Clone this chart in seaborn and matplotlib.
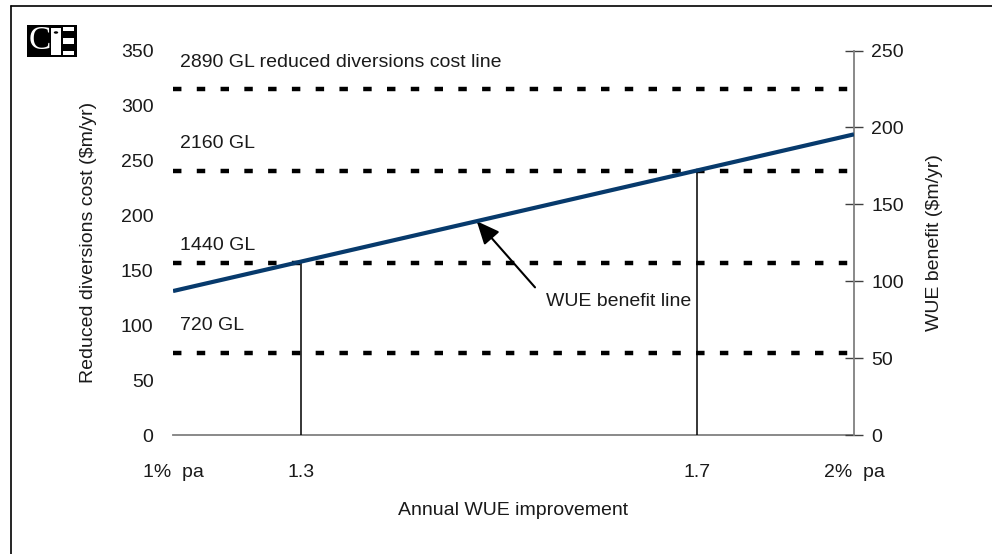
import numpy as np
import pandas as pd
import matplotlib
matplotlib.use("Agg")
import matplotlib.pyplot as plt
from matplotlib import font_manager
from matplotlib.patches import Rectangle, Circle
from matplotlib.lines import Line2D
import seaborn as sns

# Annual WUE improvement (% pa) at the ends of the benefit line
wue_pct = [1.0, 2.0]
# WUE benefit ($m/yr), read on the right-hand axis
wue_benefit = [93.6, 195.5]

# Reduced diversions cost levels ($m/yr), read on the left-hand axis
diversion_labels = ["720 GL", "1440 GL", "2160 GL",
                    "2890 GL reduced diversions cost line"]
diversion_cost = [75, 157, 240, 315]

# WUE improvements where the benefit line meets the 1440 GL and 2160 GL costs
breakeven_pct = [1.3, 1.7]
breakeven_cost = [157, 240]

x_major_ticks = [1.0, 2.0]
x_major_labels = ["1%  pa", "2%  pa"]
x_minor_ticks = [1.3, 1.7]
x_minor_labels = ["1.3", "1.7"]
left_ticks = [0, 50, 100, 150, 200, 250, 300, 350]
right_ticks = [0, 50, 100, 150, 200, 250]

sns.set_theme(style="white")
available = {f.name for f in font_manager.fontManager.ttflist}
narrow = "Liberation Sans Narrow" if "Liberation Sans Narrow" in available else "Liberation Sans"
plt.rcParams["font.family"] = [narrow, "DejaVu Sans"]
plt.rcParams["text.color"] = "#1a1a1a"
plt.rcParams["axes.labelcolor"] = "#1a1a1a"
plt.rcParams["xtick.color"] = "#1a1a1a"
plt.rcParams["ytick.color"] = "#1a1a1a"

FS = 14
GREY = "#808080"
NAVY = "#073a6c"

# The horizontal axis is stretched piecewise so 1.3 and 1.7 sit where drawn
knots_x = np.array([1.0, 1.3, 1.7, 2.0])
knots_u = np.array([0.0, 0.188, 0.769, 1.0])


def fwd(x):
    x = np.asarray(x, dtype=float)
    out = np.interp(x, knots_x, knots_u)
    out = np.where(x < 1.0, (x - 1.0) * (0.188 / 0.3), out)
    out = np.where(x > 2.0, 1.0 + (x - 2.0) * (0.231 / 0.3), out)
    return out


def inv(u):
    u = np.asarray(u, dtype=float)
    out = np.interp(u, knots_u, knots_x)
    out = np.where(u < 0.0, 1.0 + u * (0.3 / 0.188), out)
    out = np.where(u > 1.0, 2.0 + (u - 1.0) * (0.3 / 0.231), out)
    return out


fig = plt.figure(figsize=(9.92, 5.54), dpi=100)
ax = fig.add_axes([0.1744, 0.2148, 0.6865, 0.6940])
ax.set_xscale("function", functions=(fwd, inv))
ax2 = ax.twinx()

ax.set_xlim(1.0, 2.0)
ax.set_ylim(0, 350)
ax2.set_ylim(0, 250)

# Reduced diversions cost levels, each with its label a little above the line
ax.hlines(diversion_cost, wue_pct[0], wue_pct[1], colors="black",
          linewidth=3.2, linestyles=[(0, (1.9, 3.45))], capstyle="butt", zorder=2)
label_rise_px = [27, 17, 28, 26]
for lab, cost, rise in zip(diversion_labels, diversion_cost, label_rise_px):
    ax.annotate(lab, xy=(1.0, cost), xytext=(5, rise * 0.72),
                textcoords="offset points", fontsize=FS, ha="left", va="center")

# Break-even drop lines
ax.vlines(breakeven_pct, 0, breakeven_cost, colors="black", linewidth=1.1, zorder=3)

# WUE benefit line
benefit_df = pd.DataFrame({"pct": wue_pct, "benefit": wue_benefit})
sns.lineplot(data=benefit_df, x="pct", y="benefit", ax=ax2, color=NAVY,
             linewidth=3.0, solid_capstyle="butt", zorder=4)

# Arrow pointing at the benefit line
tip_u = 0.446
tip_x = float(inv(tip_u))
tip_y = wue_benefit[0] + tip_u * (wue_benefit[1] - wue_benefit[0])
ax2.annotate("", xy=(tip_x, tip_y), xytext=(float(inv(0.5316)), 96.0),
             arrowprops=dict(arrowstyle="-|>,head_length=0.5,head_width=0.22",
                             mutation_scale=28, color="black", lw=1.5,
                             shrinkA=0, shrinkB=0))
ax2.text(float(inv(0.547)), 86.5, "WUE benefit line", fontsize=FS,
         ha="left", va="center")

# Axes styling
for side in ["left", "top", "right"]:
    ax.spines[side].set_visible(False)
ax.spines["bottom"].set_color(GREY)
ax.spines["bottom"].set_linewidth(1.3)
for side in ["left", "top", "bottom"]:
    ax2.spines[side].set_visible(False)
ax2.spines["right"].set_color(GREY)
ax2.spines["right"].set_linewidth(1.3)

ax.set_yticks(left_ticks)
ax.tick_params(axis="y", length=0, pad=14, labelsize=FS)
ax.set_xticks(x_major_ticks)
ax.set_xticklabels(x_major_labels)
ax.set_xticks(x_minor_ticks, minor=True)
ax.set_xticklabels(x_minor_labels, minor=True)
ax.tick_params(axis="x", which="major", direction="out", length=8, width=1.3,
               color=GREY, pad=13, labelsize=FS)
ax.tick_params(axis="x", which="minor", length=0, pad=21, labelsize=FS)

ax2.set_yticks(right_ticks)
ax2.tick_params(axis="y", direction="inout", length=12.5, width=1.0,
                color="#404040", pad=6, labelsize=FS)

ax.set_ylabel("Reduced diversions cost ($m/yr)", fontsize=FS, labelpad=17)
ax2.set_ylabel("WUE benefit ($m/yr)", fontsize=FS, labelpad=16)
ax.set_xlabel("Annual WUE improvement", fontsize=FS, labelpad=15)
ax.grid(False)
ax2.grid(False)

# Page frame (top and left edges)
fig.add_artist(Line2D([11 / 992, 1.0], [1 - 6 / 554, 1 - 6 / 554],
                      transform=fig.transFigure, color="black", lw=1.2))
fig.add_artist(Line2D([11 / 992, 11 / 992], [0.0, 1 - 6 / 554],
                      transform=fig.transFigure, color="black", lw=1.2))

# CIE logo
W, H = 992, 554


def fig_rect(x0, y0, x1, y1, color):
    fig.add_artist(Rectangle((x0 / W, 1 - y1 / H), (x1 - x0) / W, (y1 - y0) / H,
                             transform=fig.transFigure, color=color, lw=0))


fig_rect(27, 25, 77, 57, "black")
fig.text(39.5 / W, 1 - 41 / H, "C", color="white", fontsize=24,
         family="Liberation Serif", ha="center", va="center")
fig_rect(51, 28, 61, 55, "white")
fig.add_artist(Circle((56 / W, 1 - 32.5 / H), 2.2 / W, transform=fig.transFigure,
                      color="black", lw=0))
fig_rect(63, 27, 74, 31, "white")
fig_rect(63, 38, 74, 44, "white")
fig_rect(63, 51, 74, 55, "white")

fig.savefig("out.png", dpi=100)
